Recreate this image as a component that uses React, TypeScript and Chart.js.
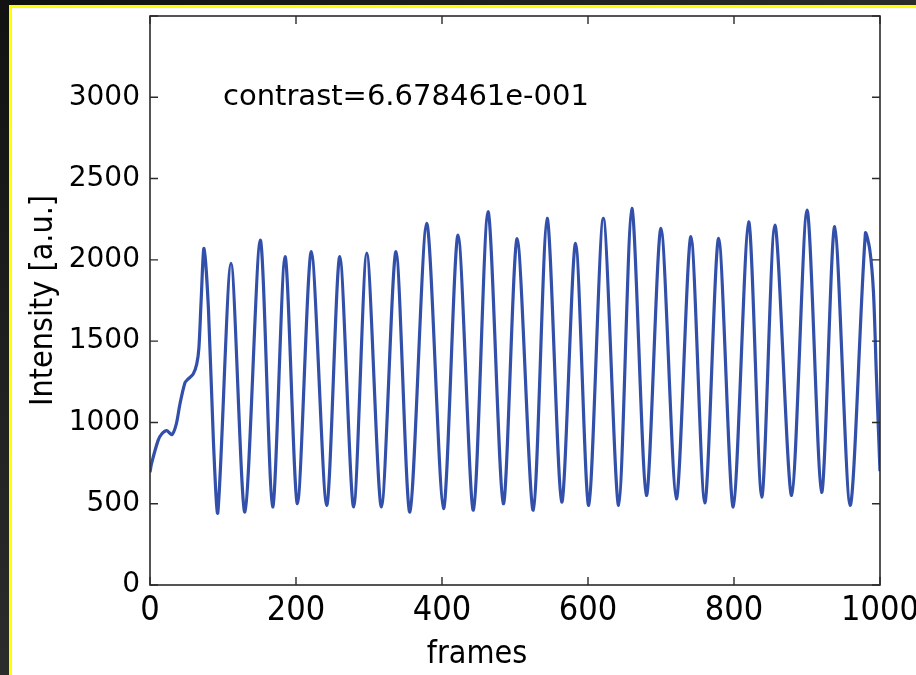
import { useEffect, useRef } from "react";
import { Chart, registerables } from "chart.js";

Chart.register(...registerables);

// frame index of each read point
const frames = [
  0, 2, 11, 16, 23, 30, 36, 41, 48, 52, 59, 64, 67, 70, 74, 80, 87,
  93, 111, 130, 151, 168, 185, 202, 221, 242, 260, 279, 297, 317, 337, 356,
  379, 402, 422, 443, 463, 484, 503, 525, 544, 564, 583, 601, 621, 642, 660,
  680, 700, 721, 741, 760, 779, 799, 820, 838, 856, 879, 900, 920, 938, 959,
  980, 986, 991, 995, 1000,
];
// intensity [a.u.] at each read point
const intensity = [
  694, 745, 888, 929, 949, 925, 990, 1113, 1245, 1266, 1296, 1359, 1459, 1745, 2071, 1704, 870,
  449, 1979, 449, 2122, 480, 2020, 500, 2051, 490, 2020, 480, 2041, 480, 2051, 449,
  2224, 470, 2153, 460, 2296, 500, 2130, 460, 2255, 510, 2102, 490, 2255, 490, 2316,
  551, 2194, 530, 2143, 505, 2132, 480, 2234, 541, 2214, 551, 2306, 570, 2204, 490,
  2163, 2063, 1806, 1298, 700,
];

const xMin = 0;
const xMax = 1000;
const xStep = 200;
const yMin = 0;
const yMax = 3500;
const yStep = 500;
const yHiddenLabels = [3500];

const annotationText = "contrast=6.678461e-001";
const annotationAt = [100, 3000];
const xTitle = "frames";
const xTitleAt = 448;
const yTitle = "Intensity [a.u.]";

const boxPlugin = {
  id: "boxTicks",
  afterDatasetsDraw(chart: any) {
    const { ctx, chartArea, scales } = chart;
    const { left, right, top, bottom } = chartArea;
    const x = scales.x;
    const y = scales.y;
    ctx.save();
    ctx.strokeStyle = "#2b2b2b";
    ctx.lineWidth = 1.6;
    ctx.strokeRect(left, top, right - left, bottom - top);
    const len = 8;
    ctx.lineWidth = 1.4;
    ctx.beginPath();
    x.ticks.forEach((t: any) => {
      const px = x.getPixelForValue(t.value);
      ctx.moveTo(px, bottom);
      ctx.lineTo(px, bottom - len);
      ctx.moveTo(px, top);
      ctx.lineTo(px, top + len);
    });
    y.ticks.forEach((t: any) => {
      const py = y.getPixelForValue(t.value);
      ctx.moveTo(left, py);
      ctx.lineTo(left + len, py);
      ctx.moveTo(right, py);
      ctx.lineTo(right - len, py);
    });
    ctx.stroke();

    ctx.fillStyle = "#000";
    ctx.font = '29px "DejaVu Sans"';
    ctx.textAlign = "left";
    ctx.textBaseline = "middle";
    ctx.fillText(
      annotationText,
      x.getPixelForValue(annotationAt[0]),
      y.getPixelForValue(annotationAt[1])
    );

    ctx.font = '32px "DejaVu Sans Condensed", "DejaVu Sans"';
    ctx.textAlign = "center";
    ctx.textBaseline = "middle";
    ctx.fillText(xTitle, x.getPixelForValue(xTitleAt), 655);
    ctx.restore();
  },
};

export default function App() {
  const ref = useRef<HTMLCanvasElement | null>(null);

  useEffect(() => {
    if (!ref.current) return;
    const points = frames.map((f, i) => ({ x: f, y: intensity[i] }));
    const chart = new Chart(ref.current, {
      type: "line",
      data: {
        datasets: [
          {
            data: points,
            borderColor: "rgb(50,80,170)",
            borderWidth: 3.2,
            pointRadius: 0,
            tension: 0.28,
            fill: false,
          },
        ],
      },
      options: {
        animation: false,
        responsive: false,
        events: [],
        layout: { padding: { left: 0, top: 16, right: 36, bottom: 0 } },
        plugins: {
          legend: { display: false },
          tooltip: { enabled: false },
        },
        scales: {
          x: {
            type: "linear",
            min: xMin,
            max: xMax,
            grid: { display: false, drawTicks: false },
            border: { display: false },
            ticks: {
              stepSize: xStep,
              maxRotation: 0,
              autoSkip: false,
              padding: 6,
              color: "#000",
              font: { family: '"DejaVu Sans Condensed", "DejaVu Sans"', size: 34 },
              callback: (v: any) => String(v),
            },
            afterFit(scale: any) {
              scale.height = 90;
              scale.paddingLeft = 0;
              scale.paddingRight = 0;
            },
          },
          y: {
            type: "linear",
            min: yMin,
            max: yMax,
            grid: { display: false, drawTicks: false },
            border: { display: false },
            ticks: {
              stepSize: yStep,
              autoSkip: false,
              padding: 10,
              color: "#000",
              font: { family: '"DejaVu Sans"', size: 28 },
              callback: (v: any) => (yHiddenLabels.includes(Number(v)) ? "" : String(v)),
            },
            title: {
              display: true,
              text: yTitle,
              color: "#000",
              font: { family: '"DejaVu Sans Condensed", "DejaVu Sans"', size: 32 },
              padding: { top: 24, bottom: 0 },
            },
            afterFit(scale: any) {
              scale.width = 150;
              scale.paddingTop = 0;
              scale.paddingBottom = 0;
            },
          },
        },
      },
      plugins: [boxPlugin],
    });
    return () => chart.destroy();
  }, []);

  return (
    <div
      style={{
        position: "fixed",
        left: 0,
        top: 0,
        width: 916,
        height: 675,
        overflow: "hidden",
        background: "linear-gradient(to bottom right, #111111, #2e2e2e 55%, #4a4a4a)",
      }}
    >
      <div
        style={{
          position: "absolute",
          left: 9,
          top: 5,
          right: 0,
          bottom: 0,
          background: "#ffffff",
          borderTop: "3px solid #ffff00",
          borderLeft: "3px solid #ffff00",
        }}
      />
      <canvas
        ref={ref}
        width={916}
        height={675}
        style={{ position: "absolute", left: 0, top: 0, width: 916, height: 675 }}
      />
    </div>
  );
}
